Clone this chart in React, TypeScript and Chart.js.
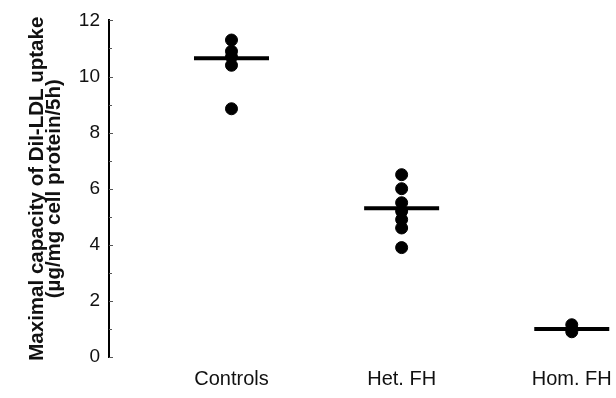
import React, { useEffect, useRef } from "react";
import { Chart, registerables } from "chart.js";

Chart.register(...registerables);

const categories = ["Controls", "Het. FH", "Hom. FH"];
const categoryX = [1, 2, 3];
const controlsValues = [11.3, 10.9, 10.7, 10.4, 8.85];
const hetFHValues = [6.5, 6.0, 5.5, 5.2, 4.9, 4.6, 3.9];
const homFHValues = [1.15, 0.9];
const meanValues = [10.65, 5.3, 1.0];
const yTickValues = [0, 2, 4, 6, 8, 10, 12];

const FONT = "'Liberation Sans', Arial, Helvetica, sans-serif";

const tickMarksPlugin = {
  id: "insideTicks",
  afterDraw(chart: any) {
    const y = chart.scales.y;
    const ctx = chart.ctx;
    const x0 = chart.chartArea.left;
    ctx.save();
    ctx.strokeStyle = "#555";
    ctx.lineWidth = 1;
    y.ticks.forEach((t: any) => {
      const py = Math.round(y.getPixelForValue(t.value)) + 0.5;
      const len = yTickValues.includes(t.value) ? 4 : 3;
      ctx.beginPath();
      ctx.moveTo(x0, py);
      ctx.lineTo(x0 + len, py);
      ctx.stroke();
    });
    ctx.restore();
  },
};

export default function App() {
  const ref = useRef<HTMLCanvasElement | null>(null);
  useEffect(() => {
    if (!ref.current) return;
    const pts = (vals: number[], i: number) => vals.map((v) => ({ x: categoryX[i], y: v }));
    const chart = new Chart(ref.current, {
      type: "scatter",
      data: {
        datasets: [
          {
            label: "Controls",
            data: pts(controlsValues, 0),
            backgroundColor: "#000",
            borderColor: "#000",
            pointRadius: 6,
            pointHoverRadius: 6,
          },
          {
            label: "Het. FH",
            data: pts(hetFHValues, 1),
            backgroundColor: "#000",
            borderColor: "#000",
            pointRadius: 6,
            pointHoverRadius: 6,
          },
          {
            label: "Hom. FH",
            data: pts(homFHValues, 2),
            backgroundColor: "#000",
            borderColor: "#000",
            pointRadius: 6,
            pointHoverRadius: 6,
          },
          {
            label: "Mean",
            data: meanValues.map((v, i) => ({ x: categoryX[i], y: v })),
            pointStyle: "line",
            pointRadius: 37.5,
            pointHoverRadius: 37.5,
            borderWidth: 4,
            borderColor: "#000",
            backgroundColor: "#000",
          },
        ],
      },
      options: {
        responsive: false,
        animation: false,
        clip: false as any,
        layout: { autoPadding: false, padding: { top: 20, left: 0, right: 0, bottom: 0 } },
        plugins: { legend: { display: false }, tooltip: { enabled: false } },
        scales: {
          x: {
            type: "linear",
            min: 0.28,
            max: 3.26,
            grid: { display: false },
            border: { display: false },
            afterBuildTicks: (scale: any) => {
              scale.ticks = categoryX.map((v) => ({ value: v }));
            },
            afterFit: (scale: any) => {
              scale.height = 41;
              scale.paddingLeft = 0;
              scale.paddingRight = 0;
            },
            ticks: {
              color: "#111",
              font: { family: FONT, size: 20 },
              padding: 2,
              maxRotation: 0,
              autoSkip: false,
              callback: (v: any) => {
                const i = categoryX.indexOf(Number(v));
                return i >= 0 ? categories[i] : "";
              },
            },
          },
          y: {
            min: 0,
            max: 12,
            grid: { display: false, drawTicks: false },
            border: { display: true, color: "#000", width: 2 },
            afterFit: (scale: any) => {
              scale.width = 109;
            },
            ticks: {
              stepSize: 1,
              color: "#111",
              font: { family: FONT, size: 19 },
              padding: 9,
              callback: (v: any) => (yTickValues.includes(Number(v)) ? String(v) : ""),
            },
            title: {
              display: true,
              text: ["Maximal capacity of DiI-LDL uptake", "(µg/mg cell protein/5h)"],
              color: "#111",
              font: { family: FONT, size: 20.5, weight: "bold", lineHeight: 0.83 },
              padding: { top: 28.5, bottom: 0 },
            },
          },
        },
      },
      plugins: [tickMarksPlugin],
    });
    return () => chart.destroy();
  }, []);
  return (
    <div style={{ position: "absolute", left: 0, top: 0, width: 616, height: 398, background: "#fff" }}>
      <canvas ref={ref} width={616} height={398} style={{ display: "block" }} />
    </div>
  );
}
